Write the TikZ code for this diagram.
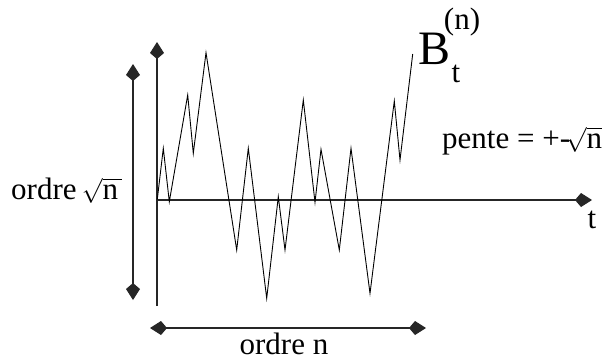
\documentclass[tikz,border=0pt]{standalone}
\usepackage{fontspec}
\setmainfont{Liberation Serif}
\usetikzlibrary{arrows.meta}
\begin{document}
\begin{tikzpicture}[x=1pt,y=-1pt,
  >={Kite[length=17pt,width=14pt,inset=6pt]},
  axis/.style={line width=1.1pt,black!85},
  dim/.style={line width=1.1pt,black!85,<->},
  walk/.style={line width=0.9pt,black,line join=miter},
  lbl/.style={inner sep=0pt,font=\fontsize{31}{34}\selectfont}]
\useasboundingbox (0,0) rectangle (610,360);
% axes
\coordinate (o) at (157,200);
\coordinate (tend) at (592,200);
\coordinate (ytop) at (157,42);
\coordinate (ybot) at (157,306);
\draw[axis,->] (o) -- (tend);
\draw[axis,->] (ybot) -- (ytop);
% random walk
\draw[walk] (157.3,199.3) -- (163.3,148.3) -- (169.3,201.7) -- (187.7,95) -- (193.3,153.3)
  -- (206,52.7) -- (236.7,250) -- (248.3,148.3) -- (266.7,298.3) -- (278.3,196.7)
  -- (285,250) -- (303.3,100) -- (315,202.3) -- (321,149.3) -- (339.3,250)
  -- (351,148.3) -- (370,293.3) -- (394.3,101) -- (400,160) -- (412.7,54);
% dimension arrows
\coordinate (va) at (133,64);
\coordinate (vb) at (133,300);
\draw[dim] (va) -- (vb);
\coordinate (ha) at (150,328);
\coordinate (hb) at (426,328);
\draw[dim] (ha) -- (hb);
% labels
\node[lbl,anchor=base west] (ordsq) at (11,199) {ordre\,$\sqrt{\mbox{n}\,}$};
\node[lbl,anchor=base] (ordn) at (284,354) {ordre n};
\node[lbl,anchor=base west] (pente) at (442,148) {pente = +-$\!\sqrt{\mbox{n}}$};
\node[lbl,anchor=base] (t) at (592,228) {t};
\node[inner sep=0pt,anchor=base west,font=\fontsize{48}{52}\selectfont] (B) at (418,64) {B};
\node[lbl,anchor=base] (Bt) at (456,82) {t};
\node[lbl,anchor=base] (Bn) at (462,29) {(n)};
\end{tikzpicture}
\end{document}
